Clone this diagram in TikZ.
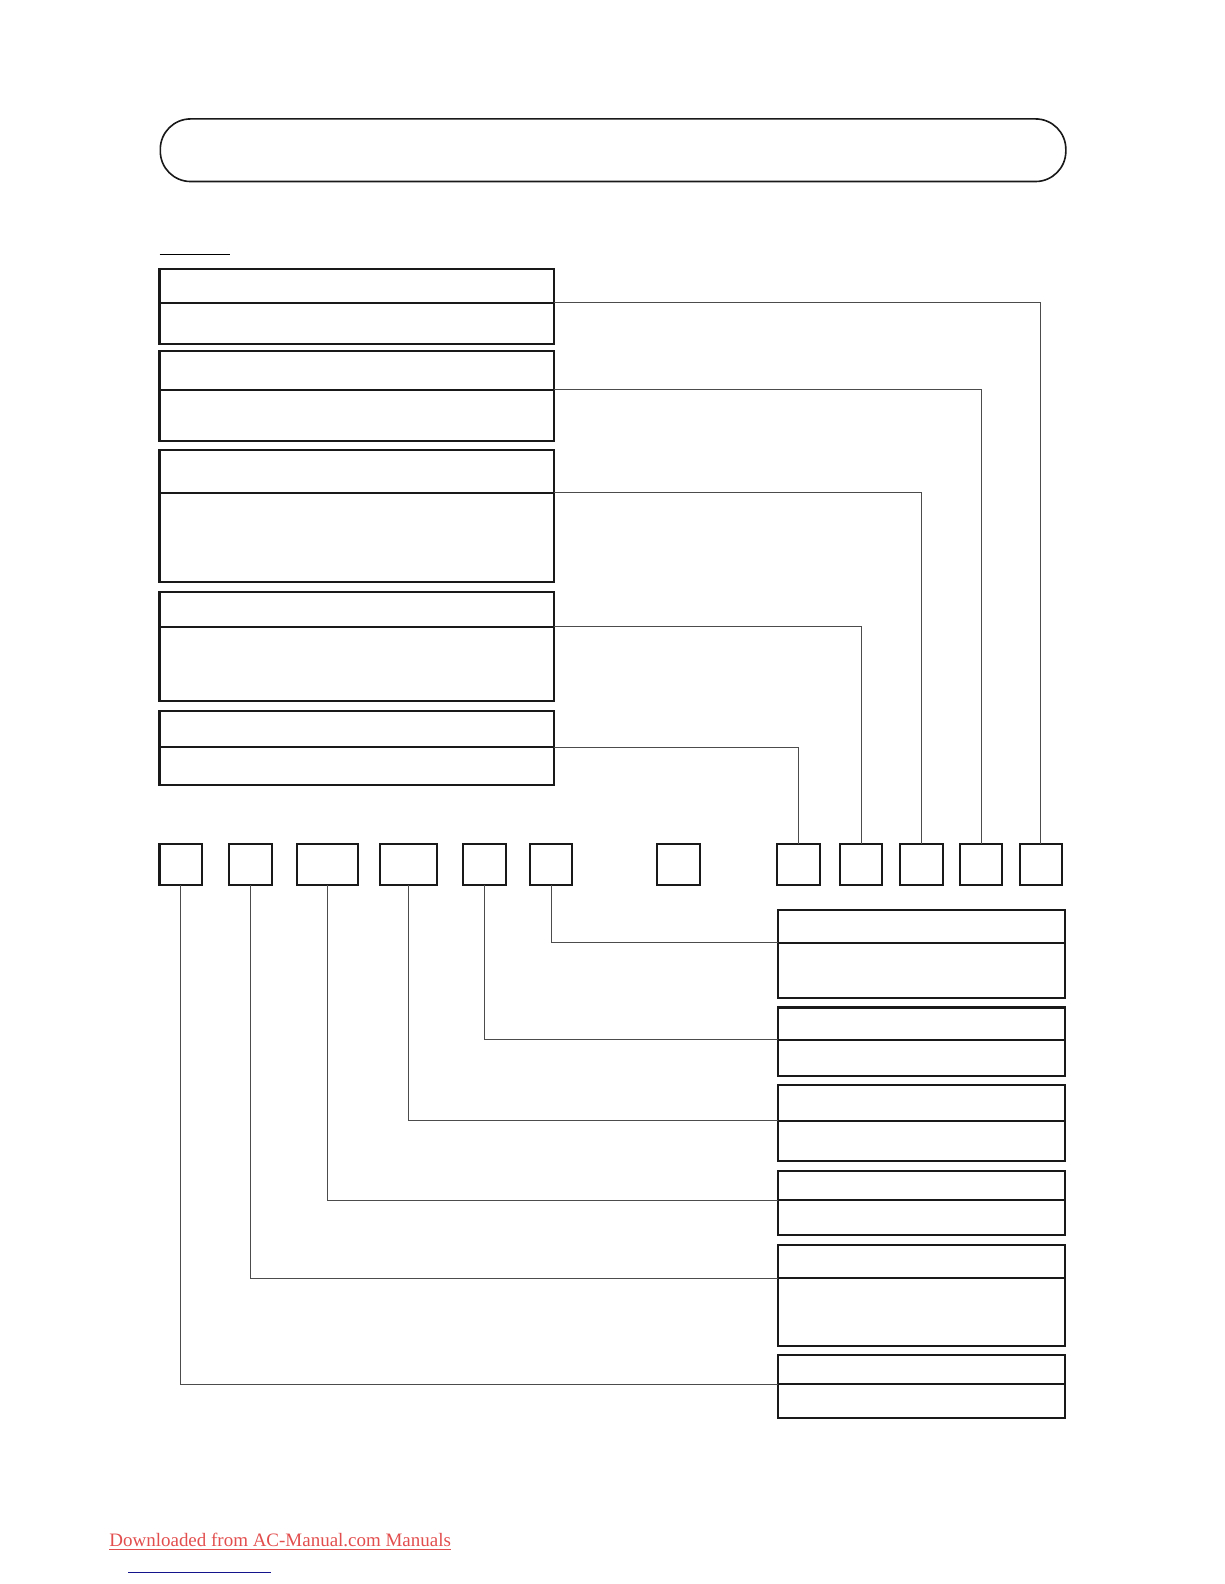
\documentclass[tikz,border=0pt]{standalone}
\usepackage{fontspec}
\setmainfont{Liberation Serif}
\usepackage{tikz}
\usetikzlibrary{positioning}
\definecolor{dlred}{RGB}{226,78,78}
\definecolor{dlblue}{RGB}{20,20,140}
\tikzset{
  cell/.style args={#1,#2}{
  draw=black!90,
  line width=1pt,
  inner sep=0pt,
  outer sep=0pt,
  minimum width=#1pt,
  minimum height=#2pt,
  },
  hdr/.style args={#1,#2}{cell={#1,#2},anchor=north west},
  sq/.style={cell={#1,20.5},anchor=north west},
  wire/.style={draw=black!70,line width=0.5pt},
  titlebox/.style={draw=black!90,line width=0.8pt,rounded corners=15pt,
   minimum width=448.5pt,minimum height=31pt,anchor=north west,inner sep=0pt}
}
\begin{document}
\begin{tikzpicture}[x=0.5pt,y=-0.5pt]
  \useasboundingbox (0,0) rectangle (1212.5,1569.1);

  \node [titlebox] (title) at (158,117) {};
  \draw [line width=0.5pt] (158,252) -- (228,252);

  % left column
  \node [hdr={195.5,17}] (a1) at (158,266) {};
  \node [cell={195.5,20.5},below=0pt of a1] (b1) {};
  \node [hdr={195.5,19}] (a2) at (158,348) {};
  \node [cell={195.5,25.5},below=0pt of a2] (b2) {};
  \node [hdr={195.5,21}] (a3) at (158,446) {};
  \node [cell={195.5,44.5},below=0pt of a3] (b3) {};
  \node [hdr={195.5,17.5}] (a4) at (158,586) {};
  \node [cell={195.5,36.5},below=0pt of a4] (b4) {};
  \node [hdr={195.5,18}] (a5) at (158,704) {};
  \node [cell={195.5,19},below=0pt of a5] (b5) {};

  % row of small boxes
  \foreach \x/\w [count=\i] in {158/21,227/21,294/30.5,376/28.5,459/21,525/21,651/21,770/21,832/21,892/21,951/21,1010/21}
    \node [sq=\w] (s\i) at (\x,836) {};

  % right column
  \node [hdr={142,16.5}] (c1) at (771,901) {};
  \node [cell={142,27.5},below=0pt of c1] (d1) {};
  \node [hdr={142,16}] (c2) at (771,998) {};
  \node [cell={142,18},below=0pt of c2] (d2) {};
  \node [hdr={142,17.5}] (c3) at (771,1075) {};
  \node [cell={142,20},below=0pt of c3] (d3) {};
  \node [hdr={142,14.5}] (c4) at (771,1160) {};
  \node [cell={142,17},below=0pt of c4] (d4) {};
  \node [hdr={142,16.5}] (c5) at (771,1233) {};
  \node [cell={142,33.5},below=0pt of c5] (d5) {};
  \node [hdr={142,14.5}] (c6) at (771,1342) {};
  \node [cell={142,17},below=0pt of c6] (d6) {};

  \path [wire] (b1.north east) -| (s12.north)
               (b2.north east) -| (s11.north)
               (b3.north east) -| (s10.north)
               (b4.north east) -| (s9.north)
               (b5.north east) -| (s8.north);
  \path [wire] (s6.south) |- (d1.north west)
               (s5.south) |- (d2.north west)
               (s4.south) |- (d3.north west)
               (s3.south) |- (d4.north west)
               (s2.south) |- (d5.north west)
               (s1.south) |- (d6.north west);

  \node [anchor=base west,inner sep=0pt,text=dlred,font=\fontsize{9.4}{11}\selectfont] (dl) at (108,1532) {\underline{Downloaded from AC-Manual.com Manuals}};
  \draw [dlblue,line width=0.6pt] (127,1558) -- (268,1558);
\end{tikzpicture}
\end{document}
